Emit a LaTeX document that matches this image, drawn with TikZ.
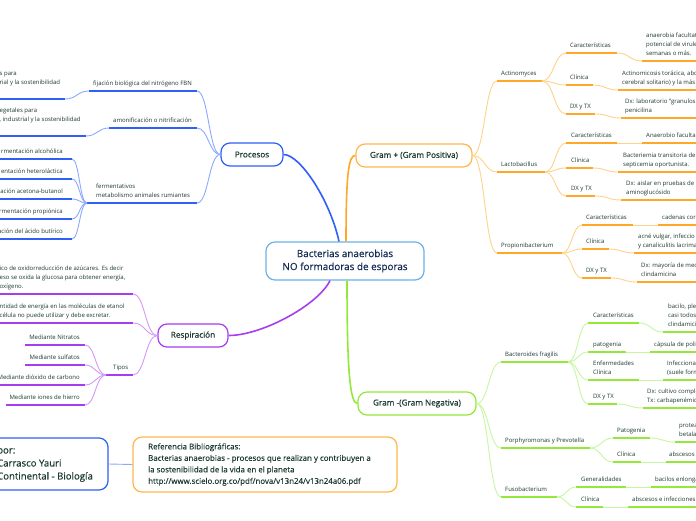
\documentclass[tikz,border=0pt]{standalone}
\usepackage{fontspec}
\setmainfont{Open Sans}
\newfontfamily\boxfont{Open Sans}[FakeBold=0.5]
\newfontfamily\reffont{Open Sans}[FakeBold=0.25]
\usetikzlibrary{calc}
\definecolor{txt}{HTML}{1C3A30}
\definecolor{ctxt}{HTML}{142C54}
\definecolor{bB}{HTML}{2F5FF5}
\definecolor{bBl}{HTML}{8DA8FF}
\definecolor{oO}{HTML}{FFA726}
\definecolor{oOl}{HTML}{FFD28A}
\definecolor{oBox}{HTML}{FFB74D}
\definecolor{gG}{HTML}{93E83A}
\definecolor{gGl}{HTML}{C8F7A0}
\definecolor{pP}{HTML}{A63DF0}
\definecolor{pPl}{HTML}{D39AF8}
\definecolor{cBx}{HTML}{6DB3E8}
\newcommand\itm[7]{%
  \coordinate (#1L) at (#2,#4);
  \coordinate (#1R) at (#3,#4);
  \draw[ulin=#6] (#1L) -- (#1R);
  \node[lbl, anchor=south west] (#1) at (#5,#4) {#7};}
\newcommand\itmR[7]{%
  \coordinate (#1L) at (#2,#4);
  \coordinate (#1R) at (#3,#4);
  \draw[ulin=#6] (#1L) -- (#1R);
  \node[lbl, anchor=south east] (#1) at (#5,#4) {#7};}
\begin{document}
\begin{tikzpicture}[x=1pt,y=-1pt,
  lbl/.style={font=\fontsize{6}{8.8}\selectfont, text=txt, inner xsep=0pt, inner ysep=2.7pt, align=left, execute at end node=\strut},
  ulin/.style={draw=#1, line width=2pt},
  conn/.style={draw=#1, line width=0.9pt},
  mainc/.style={draw=#1, line width=1.6pt},
  mbox/.style={draw=#1, line width=1.2pt, rounded corners=9pt, fill=white, text=txt, inner sep=0pt, font=\boxfont\fontsize{8.2}{10}\selectfont},
  mm/.style={to path={.. controls ($(\tikztostart)!0.5!(\tikztostart -| \tikztotarget)$) and ($(\tikztotarget)!0.5!(\tikztotarget -| \tikztostart)$) .. (\tikztotarget)}}]
\useasboundingbox (0,0) rectangle (696,520);
\fill[white] (0,0) rectangle (696,520);
\clip (0,0) rectangle (696,520);

% ---------- main boxes
\node[mbox=cBx, minimum width=158pt, minimum height=38pt, align=center, text=ctxt, font=\boxfont\fontsize{9.9}{13}\selectfont] (cen) at (345,261) {Bacterias anaerobias\\NO formadoras de esporas};
\node[mbox=bB, minimum width=62pt, minimum height=23pt] (proc) at (252,154.5) {Procesos};
\node[mbox=oBox, minimum width=116pt, minimum height=23pt] (gp) at (414,155.5) {Gram + (Gram Positiva)};
\node[mbox=pP, minimum width=70pt, minimum height=23pt] (resp) at (193,335.5) {Respiración};
\node[mbox=gG, minimum width=118pt, minimum height=23pt] (gn) at (417,403.5) {Gram -(Gram Negativa)};

\draw[mainc=bB] ([xshift=-6pt]cen.north) .. controls (330,200) and (300,154.5) .. (proc.east);
\draw[mainc=oO] ([xshift=1pt]cen.north) .. controls (346,170) and (349,155.5) .. (gp.west);
\draw[mainc=pP] ([xshift=-15pt]cen.south) .. controls (318,305) and (262,335.5) .. (resp.east);
\draw[mainc=gG] ([xshift=2pt]cen.south) .. controls (347,370) and (350,403.5) .. (gn.west);

% ---------- reference + author
\node[mbox=oBox, minimum width=264pt, minimum height=55pt] (ref) at (265,464.5) {};
\node[align=left, anchor=west, inner sep=0pt, text=txt, font=\reffont\fontsize{7.9}{11.5}\selectfont] (reft) at (148,464.5) {Referencia Bibliográficas:\\Bacterias anaerobias - procesos que realizan y contribuyen a\\la sostenibilidad de la vida en el planeta\\http://www.scielo.org.co/pdf/nova/v13n24/v13n24a06.pdf};
\node[mbox=bB, minimum width=160pt, minimum height=52pt] (auth) at (28,464) {};
\node[font=\boxfont\fontsize{9.6}{13}\selectfont, text=txt, align=left, anchor=west, inner sep=0pt] (autht) at (-3,465) {por:\\Carrasco Yauri\\Continental - Biología};
\draw[conn=bBl] (auth.east) -- (ref.west);

% ---------- Procesos
\itm{pa}{89}{197}{91}{93}{bB}{fijación biológica del nitrógeno FBN}
\itm{pax}{-5}{65}{99}{-0.5}{bB}{s para\\rial y la sostenibilidad\\\mbox{}}
\itm{pb}{109}{197}{128}{113}{bB}{amonificación o nitrificación}
\itm{pbx}{-5}{86}{136}{-0.5}{bB}{egetales para\\, industrial y la sostenibilidad\\\mbox{}}
\itm{pc}{87}{197}{203}{96}{bB}{fermentativos\\metabolismo animales rumiantes}
\itmR{pca}{-5}{72}{159}{63}{bB}{rmentación alcohólica}
\itmR{pcb}{-5}{72}{179}{63}{bB}{entación heteroláctica}
\itmR{pcc}{-5}{72}{199}{63}{bB}{ación acetona-butanol}
\itmR{pcd}{-5}{72}{219}{63}{bB}{rmentación propiónica}
\itmR{pce}{-5}{72}{239}{63}{bB}{ación del ácido butírico}
\draw[conn=bBl] (proc.west) to[mm] (paR);
\draw[conn=bBl] (proc.west) to[mm] (pbR);
\draw[conn=bBl] (proc.west) to[mm] (pcR);
\draw[conn=bBl] (paL) to[mm] (paxR);
\draw[conn=bBl] (pbL) to[mm] (pbxR);
\draw[conn=bBl] (pcL) to[mm] (pcaR);
\draw[conn=bBl] (pcL) to[mm] (pcbR);
\draw[conn=bBl] (pcL) to[mm] (pccR);
\draw[conn=bBl] (pcL) to[mm] (pcdR);
\draw[conn=bBl] (pcL) to[mm] (pceR);

% ---------- Respiracion
\itm{ra}{-5}{133}{294}{-0.5}{pP}{ico de oxidorreducción de azúcares. Es decir\\eso se oxida la glucosa para obtener energía,\\oxígeno.}
\itm{rb}{-5}{133}{323}{-0.5}{pP}{ntidad de energía en las moléculas de etanol\\célula no puede utilizar y debe excretar.}
\itm{rc}{106}{133}{375}{113}{pP}{Tipos}
\itmR{rca}{25}{85}{345}{80}{pP}{Mediante Nitratos}
\itmR{rcb}{25}{85}{365}{80}{pP}{Mediante sulfatos}
\itmR{rcc}{-5}{85}{385}{80}{pP}{Mediante dióxido de carbono}
\itmR{rcd}{6}{85}{405}{80}{pP}{Mediante iones de hierro}
\draw[conn=pPl] (resp.west) to[mm] (raR);
\draw[conn=pPl] (resp.west) to[mm] (rbR);
\draw[conn=pPl] (resp.west) to[mm] (rcR);
\draw[conn=pPl] (rcL) to[mm] (rcaR);
\draw[conn=pPl] (rcL) to[mm] (rcbR);
\draw[conn=pPl] (rcL) to[mm] (rccR);
\draw[conn=pPl] (rcL) to[mm] (rcdR);

% ---------- Gram +
\itm{ga}{497}{542}{81}{501}{oO}{Actinomyces}
\itm{gaa}{566}{617}{53}{570}{oO}{Características}
\itm{gaax}{642}{700}{61}{646}{oO}{anaerobia facultat\\potencial de virule\\semanas o más.}
\itm{gab}{566}{593}{85}{570}{oO}{Clínica}
\itm{gabx}{618}{700}{90}{622}{oO}{Actinomicosis torácica, abd\\cerebral solitario) y la más}
\itm{gac}{566}{595}{114}{570}{oO}{DX y TX}
\itm{gacx}{621}{700}{118}{625}{oO}{Dx: laboratorio "granulos\\penicilina}
\itm{gb}{497}{545}{172}{501}{oO}{Lactobacillus}
\itm{gba}{566}{617}{143}{571}{oO}{Características}
\itm{gbax}{642}{700}{143}{646}{oO}{Anaerobio faculta}
\itm{gbb}{566}{593}{168}{571}{oO}{Clínica}
\itm{gbbx}{618}{700}{172}{623}{oO}{Bacteriemia transitoria de\\septicemia oportunista.}
\itm{gbc}{566}{595}{196}{571}{oO}{DX y TX}
\itm{gbcx}{621}{700}{200}{626}{oO}{Dx: aislar en pruebas de s\\aminoglucósido}
\itm{gc}{497}{562}{253}{501}{oO}{Propionibacterium}
\itm{gca}{582}{633}{225}{586}{oO}{Características}
\itm{gcax}{658}{700}{225}{662}{oO}{cadenas cor}
\itm{gcb}{582}{609}{249}{586}{oO}{Clínica}
\itm{gcbx}{634}{700}{253}{638}{oO}{acné vulgar, infeccio\\y canaliculitis lacrima}
\itm{gcc}{582}{611}{278}{586}{oO}{DX y TX}
\itm{gccx}{637}{700}{282}{641}{oO}{Dx: mayoría de med\\clindamicina}
\draw[conn=oOl] (gp.east) to[mm] (gaL);
\draw[conn=oOl] (gp.east) to[mm] (gbL);
\draw[conn=oOl] (gp.east) to[mm] (gcL);
\draw[conn=oOl] (gaR) to[mm] (gaaL);
\draw[conn=oOl] (gaR) to[mm] (gabL);
\draw[conn=oOl] (gaR) to[mm] (gacL);
\draw[conn=oOl] (gaaR) to[mm] (gaaxL);
\draw[conn=oOl] (gabR) to[mm] (gabxL);
\draw[conn=oOl] (gacR) to[mm] (gacxL);
\draw[conn=oOl] (gbR) to[mm] (gbaL);
\draw[conn=oOl] (gbR) to[mm] (gbbL);
\draw[conn=oOl] (gbR) to[mm] (gbcL);
\draw[conn=oOl] (gbaR) to[mm] (gbaxL);
\draw[conn=oOl] (gbbR) to[mm] (gbbxL);
\draw[conn=oOl] (gbcR) to[mm] (gbcxL);
\draw[conn=oOl] (gcR) to[mm] (gcaL);
\draw[conn=oOl] (gcR) to[mm] (gcbL);
\draw[conn=oOl] (gcR) to[mm] (gccL);
\draw[conn=oOl] (gcaR) to[mm] (gcaxL);
\draw[conn=oOl] (gcbR) to[mm] (gcbxL);
\draw[conn=oOl] (gccR) to[mm] (gccxL);

% ---------- Gram -
\itm{na}{501}{568}{362}{505}{gG}{Bacteroides fragilis}
\itm{naa}{588}{639}{323}{593}{gG}{Características}
\itm{naax}{663}{700}{332}{668}{gG}{bacilo, ple\\casi todos\\clindamici}
\itm{nab}{588}{626}{352}{593}{gG}{patogenia}
\itm{nabx}{650}{700}{352}{654}{gG}{cápsula de poli}
\itm{nac}{588}{639}{380}{593}{gG}{Enfermedades\\Clínica}
\itm{nacx}{663}{700}{380}{667}{gG}{Infecciona\\(suele form}
\itm{nad}{588}{617}{404}{593}{gG}{DX y TX}
\itm{nadx}{643}{700}{408}{647}{gG}{Dx: cultivo comple\\Tx: carbapenémic}
\itm{nb}{501}{590}{448}{505}{gG}{Porphyromonas y Prevotella}
\itm{nba}{613}{650}{438}{617}{gG}{Patogenia}
\itm{nbax}{675}{700}{442}{679}{gG}{protea\\betala}
\itm{nbb}{613}{641}{462}{617}{gG}{Clínica}
\itm{nbbx}{666}{700}{462}{669}{gG}{abscesos}
\itm{nc}{501}{557}{497}{505}{gG}{Fusobacterium}
\itm{nca}{576}{626}{487}{581}{gG}{Generalidades}
\itm{ncax}{651}{700}{487}{655}{gG}{bacilos enlonga}
\itm{ncb}{576}{603}{507}{581}{gG}{Clínica}
\itm{ncbx}{628}{700}{507}{632}{gG}{abscesos e infecciones}
\draw[conn=gGl] (gn.east) to[mm] (naL);
\draw[conn=gGl] (gn.east) to[mm] (nbL);
\draw[conn=gGl] (gn.east) to[mm] (ncL);
\draw[conn=gGl] (naR) to[mm] (naaL);
\draw[conn=gGl] (naR) to[mm] (nabL);
\draw[conn=gGl] (naR) to[mm] (nacL);
\draw[conn=gGl] (naR) to[mm] (nadL);
\draw[conn=gGl] (naaR) to[mm] (naaxL);
\draw[conn=gGl] (nabR) to[mm] (nabxL);
\draw[conn=gGl] (nacR) to[mm] (nacxL);
\draw[conn=gGl] (nadR) to[mm] (nadxL);
\draw[conn=gGl] (nbR) to[mm] (nbaL);
\draw[conn=gGl] (nbR) to[mm] (nbbL);
\draw[conn=gGl] (nbaR) to[mm] (nbaxL);
\draw[conn=gGl] (nbbR) to[mm] (nbbxL);
\draw[conn=gGl] (ncR) to[mm] (ncaL);
\draw[conn=gGl] (ncR) to[mm] (ncbL);
\draw[conn=gGl] (ncaR) to[mm] (ncaxL);
\draw[conn=gGl] (ncbR) to[mm] (ncbxL);
\end{tikzpicture}
\end{document}
